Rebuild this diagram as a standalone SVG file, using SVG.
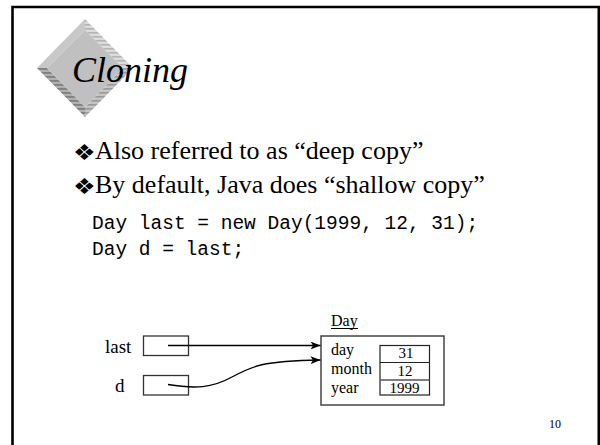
<svg xmlns="http://www.w3.org/2000/svg" width="600" height="445" viewBox="0 0 600 445">
<style>
.serif{font-family:"Liberation Serif","Times New Roman",serif;fill:#000}
.mono{font-family:"Liberation Mono","Courier New",monospace;fill:#000}
.bul{font-family:"DejaVu Sans",sans-serif;fill:#000;font-size:22px}
.box{fill:#fff;stroke:#333;stroke-width:1.3}
.conn{fill:none;stroke:#000;stroke-width:1.3}
</style>
<defs>
<pattern id="stLight" width="4" height="4" patternUnits="userSpaceOnUse"><rect width="4" height="4" fill="#dcdcdc"/><rect width="4" height="1.6" fill="#b4b4b4"/></pattern>
<pattern id="stDark" width="4" height="4" patternUnits="userSpaceOnUse"><rect width="4" height="4" fill="#b0b0b0"/><rect width="4" height="1.8" fill="#808080"/></pattern>
<pattern id="stMid" width="4" height="4" patternUnits="userSpaceOnUse"><rect width="4" height="4" fill="#c4c4c4"/><rect width="4" height="1.6" fill="#9a9a9a"/></pattern>
<marker id="arr" viewBox="0 0 10 8" refX="10" refY="4" markerWidth="10" markerHeight="8" markerUnits="userSpaceOnUse" orient="auto">
<path d="M0,0 L10,4 L0,8 L2.5,4 z" fill="#000"/>
</marker>
</defs>
<rect width="600" height="445" fill="#fff"/>
<path d="M12.5,445 V7 H598.8 V445" fill="none" stroke="#000" stroke-width="2.6"/>
<g id="logo">
<polygon points="85,19 37,68 47,68 85,30" fill="#c8c8c8"/>
<polygon points="85,19 133,68 123,68 85,30" fill="url(#stLight)"/>
<polygon points="37,68 85,117 85,107 47,68" fill="url(#stDark)"/>
<polygon points="133,68 85,117 85,107 123,68" fill="url(#stMid)"/>
<polygon points="85,30 123,68 85,107 47,68" fill="#c0c0c0"/>
</g>
<text class="serif" x="72" y="82" font-size="36" font-style="italic">Cloning</text>
<g id="bullets">
<text class="bul" transform="translate(73,160) scale(1.15,1)">❖</text>
<text x="95" y="159" class="serif" font-size="26">Also referred to as “deep copy”</text>
<text class="bul" transform="translate(73,194) scale(1.15,1)">❖</text>
<text x="95" y="193" class="serif" font-size="26">By default, Java does “shallow copy”</text>
</g>
<g id="code">
<text x="92" y="229" class="mono" font-size="19.5" xml:space="preserve">Day last = new Day(1999, 12, 31);</text>
<text x="92" y="255" class="mono" font-size="19.5" xml:space="preserve">Day d = last;</text>
</g>
<g id="var-last">
<text x="105" y="353" class="serif" font-size="19">last</text>
<rect class="box" x="143.5" y="336" width="45" height="19.5"/>
</g>
<g id="var-d">
<text x="115" y="392" class="serif" font-size="19">d</text>
<rect class="box" x="143.5" y="375.5" width="45" height="19.5"/>
</g>
<g id="day-object">
<text x="331" y="326" class="serif" font-size="16">Day</text>
<line x1="331" y1="328.5" x2="358" y2="328.5" stroke="#000" stroke-width="1"/>
<rect x="321" y="336" width="123" height="69" fill="#fff" stroke="#444" stroke-width="1.5"/>
<text x="331" y="355" class="serif" font-size="16">day</text>
<text x="331" y="374" class="serif" font-size="16">month</text>
<text x="331" y="393" class="serif" font-size="16">year</text>
<rect x="380" y="345.5" width="49.5" height="49.5" fill="#fff" stroke="#222" stroke-width="1.2"/>
<line x1="380" y1="362.5" x2="429.5" y2="362.5" stroke="#222" stroke-width="1.2"/>
<line x1="380" y1="380" x2="429.5" y2="380" stroke="#555" stroke-width="1.6"/>
<text x="406" y="358" class="serif" font-size="15" text-anchor="middle">31</text>
<text x="405" y="376" class="serif" font-size="15" text-anchor="middle">12</text>
<text x="404.5" y="392.5" class="serif" font-size="15" text-anchor="middle">1999</text>
</g>
<g id="connectors">
<path class="conn" d="M168,345.5 H320.5" marker-end="url(#arr)"/>
<path class="conn" d="M168,384.5 C195,389 212,388 232,377 C252,366 262,361 320.5,360" marker-end="url(#arr)"/>
</g>
<text x="555" y="428" class="serif" font-size="12" text-anchor="middle">10</text>
</svg>
